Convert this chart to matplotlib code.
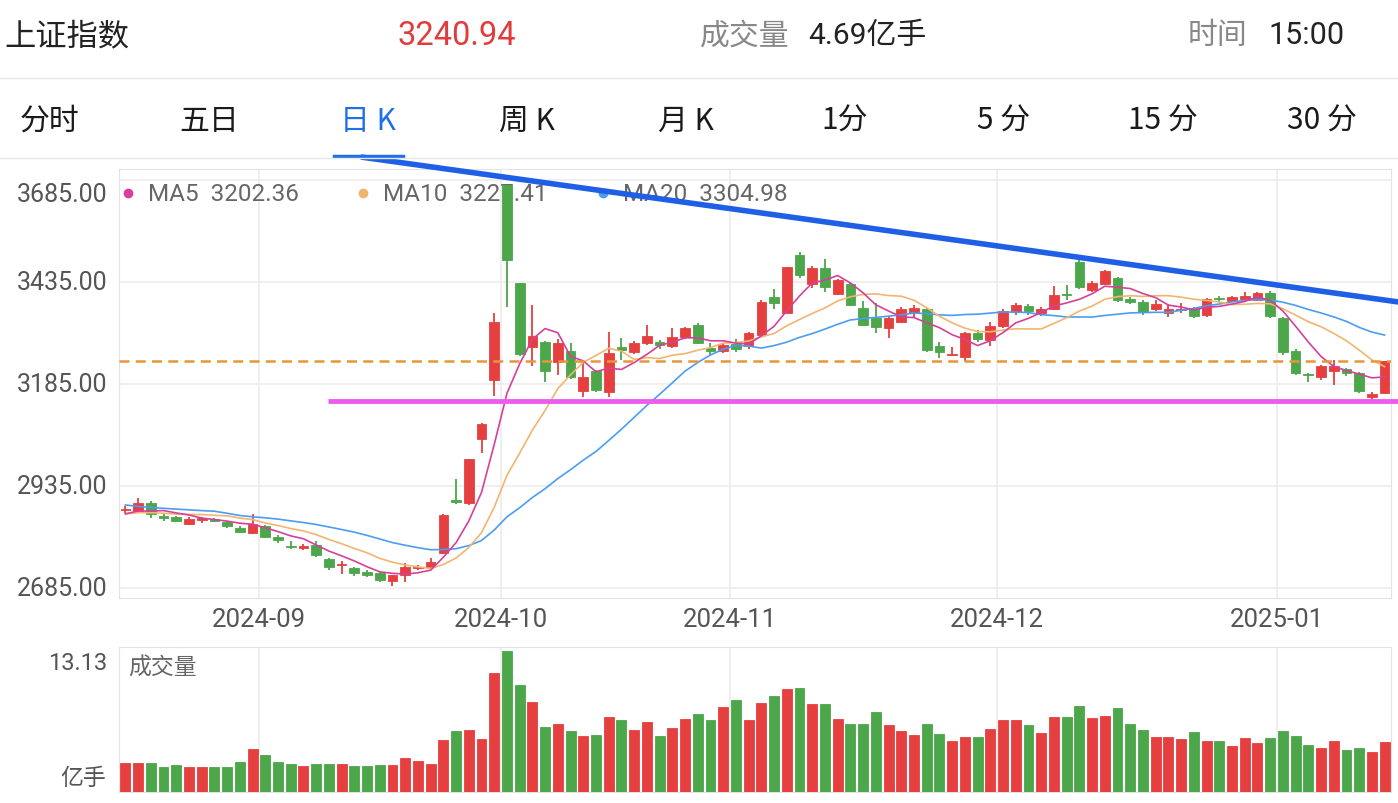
import matplotlib
matplotlib.use("Agg")
import matplotlib.pyplot as plt
import matplotlib.transforms as mtransforms
import numpy as np

plt.rcParams['font.family'] = ['Roboto', 'Noto Sans CJK SC', 'DejaVu Sans']
CJK = ['Noto Sans CJK SC', 'DejaVu Sans']

# ---- data: SSE composite, daily, 2024-08-16 .. 2025-01-14 ----
# closes of the 19 sessions before the window, only used for the moving averages
prior_close = [2964.22, 2915.37, 2901.95, 2886.74, 2890.90, 2891.85, 2879.30, 2938.75,
               2932.39, 2905.34, 2860.70, 2867.28, 2869.90, 2869.83, 2862.19, 2858.20,
               2867.95, 2850.65, 2877.36]

opens = [2876, 2874, 2893, 2862, 2859, 2842, 2851, 2854, 2847, 2832,
         2820, 2836, 2811, 2788, 2783, 2790, 2756, 2742, 2733, 2724,
         2721, 2703, 2716, 2734, 2737, 2770, 2901, 2893, 3049, 3194,
         3674, 3433, 3276, 3289, 3240, 3266, 3169, 3217, 3165, 3276,
         3263, 3285, 3288, 3279, 3300, 3330, 3273, 3266, 3283, 3278,
         3306, 3398, 3360, 3500, 3431, 3470, 3406, 3430, 3371, 3347,
         3323, 3338, 3360, 3368, 3278, 3257, 3252, 3310, 3294, 3327,
         3362, 3376, 3358, 3370, 3406, 3484, 3416, 3431, 3445, 3393,
         3386, 3370, 3358, 3366, 3371, 3353, 3396, 3389, 3394, 3392,
         3407, 3347, 3267, 3210, 3203, 3218, 3222, 3212, 3152, 3163]
highs = [2885, 2906, 2898, 2866, 2862, 2860, 2860, 2857, 2850, 2836,
         2866, 2840, 2814, 2800, 2793, 2800, 2758, 2751, 2737, 2730,
         2724, 2718, 2746, 2742, 2758, 2866, 2952, 3002, 3090, 3358,
         3674, 3433, 3379, 3290, 3295, 3285, 3236, 3220, 3312, 3298,
         3290, 3330, 3292, 3322, 3324, 3334, 3285, 3284, 3296, 3312,
         3390, 3418, 3472, 3509, 3474, 3492, 3442, 3434, 3388, 3384,
         3352, 3373, 3379, 3371, 3287, 3275, 3312, 3318, 3336, 3368,
         3384, 3380, 3374, 3426, 3428, 3488, 3437, 3464, 3448, 3398,
         3392, 3390, 3380, 3383, 3373, 3395, 3400, 3401, 3410, 3410,
         3412, 3349, 3272, 3213, 3232, 3245, 3225, 3214, 3166, 3242]
lows = [2869, 2872, 2857, 2850, 2846, 2840, 2845, 2846, 2833, 2820,
        2818, 2808, 2795, 2781, 2779, 2762, 2730, 2719, 2714, 2712,
        2700, 2690, 2699, 2730, 2734, 2768, 2890, 2889, 3017, 3156,
        3374, 3254, 3229, 3190, 3208, 3198, 3152, 3166, 3153, 3245,
        3258, 3280, 3272, 3274, 3296, 3284, 3255, 3262, 3264, 3272,
        3300, 3370, 3358, 3446, 3420, 3410, 3402, 3377, 3328, 3311,
        3297, 3334, 3350, 3264, 3248, 3254, 3242, 3289, 3278, 3322,
        3355, 3354, 3352, 3366, 3392, 3418, 3410, 3428, 3386, 3382,
        3355, 3364, 3350, 3360, 3346, 3350, 3385, 3386, 3390, 3389,
        3348, 3256, 3206, 3191, 3196, 3183, 3205, 3164, 3141, 3160]
closes = [2879.43, 2893.67, 2866.66, 2856.58, 2848.77, 2854.37, 2855.52, 2848.73, 2837.43, 2823.11,
          2842.21, 2811.04, 2802.98, 2784.28, 2788.31, 2765.81, 2736.49, 2744.19, 2721.80, 2717.12,
          2704.09, 2717.28, 2736.02, 2736.81, 2748.92, 2863.13, 2896.31, 3000.95, 3087.53, 3336.50,
          3489.78, 3258.86, 3301.93, 3217.74, 3284.32, 3201.29, 3202.95, 3169.38, 3261.56, 3268.11,
          3285.87, 3302.80, 3280.26, 3299.70, 3322.20, 3286.41, 3266.24, 3279.82, 3272.01, 3310.21,
          3386.99, 3383.81, 3470.66, 3452.30, 3470.07, 3421.97, 3439.28, 3379.84, 3330.73, 3323.85,
          3346.01, 3367.99, 3370.40, 3267.19, 3263.76, 3259.76, 3309.78, 3295.70, 3326.46, 3363.98,
          3378.81, 3364.65, 3368.86, 3404.08, 3402.53, 3422.66, 3432.49, 3461.50, 3391.88, 3386.33,
          3361.49, 3382.21, 3370.03, 3368.07, 3351.26, 3393.53, 3393.35, 3398.08, 3400.14, 3407.33,
          3351.76, 3262.56, 3211.43, 3206.92, 3229.64, 3230.17, 3211.39, 3168.52, 3160.76, 3240.94]
# volume, 亿手
volume = [2.70, 2.68, 2.70, 2.36, 2.51, 2.33, 2.33, 2.36, 2.36, 2.82,
          4.00, 3.47, 2.82, 2.64, 2.45, 2.58, 2.64, 2.64, 2.45, 2.45,
          2.54, 2.54, 3.20, 2.89, 2.64, 4.84, 5.71, 5.80, 4.93, 11.05,
          13.13, 9.93, 8.38, 6.08, 6.30, 5.68, 5.21, 5.31, 6.98, 6.70,
          5.77, 6.55, 5.21, 5.96, 6.77, 7.26, 6.70, 7.88, 8.57, 6.70,
          8.26, 8.97, 9.62, 9.68, 8.19, 8.19, 6.80, 6.33, 6.33, 7.48,
          6.27, 5.68, 5.31, 6.33, 5.40, 4.75, 5.12, 5.15, 5.87, 6.73,
          6.70, 6.24, 5.49, 7.02, 6.98, 8.01, 6.86, 7.05, 7.82, 6.30,
          5.74, 5.15, 5.15, 4.94, 5.59, 4.75, 4.75, 4.29, 5.03, 4.56,
          5.06, 5.68, 5.25, 4.35, 4.13, 4.75, 3.87, 4.12, 3.74, 4.69]

month_labels = ['2024-09', '2024-10', '2024-11', '2024-12', '2025-01']
month_start = [11, 30, 48, 69, 91]          # index of first session of each month
price_ticks = [3685, 3435, 3185, 2935, 2685]
support_level = 3143                        # hand drawn magenta line
trend_x = [18.6, 100.1]                     # hand drawn blue trend line
trend_y = [3741, 3386]
index_name = '上证指数'
quote_time = '15:00'

RED = '#e5403f'
GREEN = '#4ca64a'
GRID = '#ececec'
TXT = '#666666'

opens = np.array(opens, float)
closes = np.array(closes, float)
highs = np.array(highs, float)
lows = np.array(lows, float)
volume = np.array(volume)
n = len(closes)
x = np.arange(n)
up = closes >= opens
colors = np.where(up, RED, GREEN)

allc = np.concatenate([prior_close, closes])
def ma(k):
    return np.array([allc[i + 19 - k + 1:i + 20].mean() for i in range(n)])
ma5, ma10, ma20 = ma(5), ma(10), ma(20)

fig = plt.figure(figsize=(13.98, 8.04), dpi=100)
W, H = 1398.0, 804.0

def fx(px):
    return px / W
def fy(py):
    return 1 - py / H

# ---- header ----
fig.text(fx(4), fy(36), index_name, family=CJK, fontsize=22.5, color='#222222', va='center')
fig.text(fx(457), fy(36), '%.2f' % closes[-1], fontsize=23.5, color='#e23b3b', va='center', ha='center')
fig.text(fx(700), fy(36), '成交量', family=CJK, fontsize=21.5, color='#888888', va='center')
fig.text(fx(808), fy(36), '%.2f亿手' % volume[-1], fontsize=21.5, color='#222222', va='center')
fig.text(fx(1188), fy(36), '时间', family=CJK, fontsize=21.5, color='#888888', va='center')
fig.text(fx(1268), fy(36), quote_time, fontsize=22, color='#222222', va='center')
fig.add_artist(plt.Line2D([0, 1], [fy(79), fy(79)], color='#e6e6e6', lw=1))

tabs = ['分时', '五日', '日 K', '周 K', '月 K', '1分', '5 分', '15 分', '30 分']
for k, t in enumerate(tabs):
    c = '#1f6fe6' if k == 2 else '#1a1a1a'
    fig.text(fx(50 + 159 * k), fy(121), t, family=CJK, fontsize=21.5, color=c, ha='center', va='center')
fig.add_artist(plt.Line2D([fx(334), fx(403)], [fy(157), fy(157)], color='#1f6fe6', lw=2.5))
fig.add_artist(plt.Line2D([0, 1], [fy(158.5), fy(158.5)], color='#e6e6e6', lw=1))

# ---- price panel ----
ax = fig.add_axes([fx(119), fy(599), fx(1391) - fx(119), (599 - 170) / H])
ax.set_xlim(-0.5, n - 0.5)
ax.set_ylim(2660.5, 3712)
for s in ax.spines.values():
    s.set_color('#e3e3e3')
ax.set_xticks([])
ax.set_yticks([])
for v in price_ticks:
    ax.axhline(v, color=GRID, lw=1.2, zorder=0)
for m in month_start:
    ax.axvline(m - 0.5, color=GRID, lw=1.2, zorder=0)

bw = 0.76
body_lo = np.minimum(opens, closes)
body_h = np.maximum(np.abs(closes - opens), 1.5)
ax.vlines(x, lows, highs, colors=colors, lw=1.3, zorder=3)
ax.bar(x, body_h, bw, bottom=body_lo, color=colors, edgecolor=colors, lw=0.6, zorder=4)

ax.plot(x, ma20, color='#4b9df2', lw=1.2, zorder=5)
ax.plot(x, ma10, color='#f2b570', lw=1.2, zorder=5)
ax.plot(x, ma5, color='#d6409a', lw=1.2, zorder=5)

ax.axhline(closes[-1], color='#e8953a', lw=1.8, ls=(0, (4, 2.5)), zorder=6)
ax.plot([15.9, n + 0.05], [support_level, support_level], color='#ee5cee', lw=3.5,
        solid_capstyle='butt', clip_on=False, zorder=7)
ax.plot(trend_x, trend_y, color='#1f5fe6', lw=4, solid_capstyle='round', clip_on=False, zorder=8)

# legend
leg = [('MA5', ma5[-1], '#d6409a', 0.0071), ('MA10', ma10[-1], '#f0b46e', 0.1918),
       ('MA20', ma20[-1], '#4b9df2', 0.3805)]
for name, val, c, px in leg:
    ax.plot([px], [0.944], 'o', ms=6, color=c, transform=ax.transAxes, clip_on=False, zorder=2)
    ax.text(px + 0.0155, 0.944, '%s  %.2f' % (name, val), transform=ax.transAxes, fontsize=17.5,
            color=TXT, va='center', ha='left', zorder=2)

# y labels
ytr = mtransforms.blended_transform_factory(ax.transAxes, ax.transData)
for v in price_ticks:
    off = -14 if v == price_ticks[0] else 0
    ax.annotate('%.2f' % v, xy=(-0.0094, v), xycoords=ytr, xytext=(0, off),
                textcoords='offset pixels', ha='right', va='center', fontsize=18, color='#555555',
                annotation_clip=False)
xtr = mtransforms.blended_transform_factory(ax.transData, ax.transAxes)
for m, lab in zip(month_start, month_labels):
    ax.text(m - 0.5, -21 / 429.0, lab, transform=xtr, ha='center', va='center', fontsize=18.5,
            color='#555555')

# ---- volume panel ----
axv = fig.add_axes([fx(119), fy(793), fx(1391) - fx(119), (793 - 648) / H])
axv.set_xlim(-0.5, n - 0.5)
axv.set_ylim(0, 13.5)
for s in axv.spines.values():
    s.set_color('#e3e3e3')
axv.set_xticks([])
axv.set_yticks([])
for m in month_start:
    axv.axvline(m - 0.5, color=GRID, lw=1.2, zorder=0)
axv.bar(x, volume, 0.78, color=colors, edgecolor=colors, lw=0.6, zorder=3)
axv.text(0.0071, 0.862, '成交量', transform=axv.transAxes, family=CJK, fontsize=16.5, color=TXT,
         va='center', ha='left')
fig.text(fx(107), fy(664), '%.2f' % volume.max(), fontsize=17, color='#555555', ha='right', va='center')
fig.text(fx(106), fy(779), '亿手', family=CJK, fontsize=16.5, color='#555555', ha='right', va='center')

fig.savefig('out.png', dpi=100, facecolor='white')
